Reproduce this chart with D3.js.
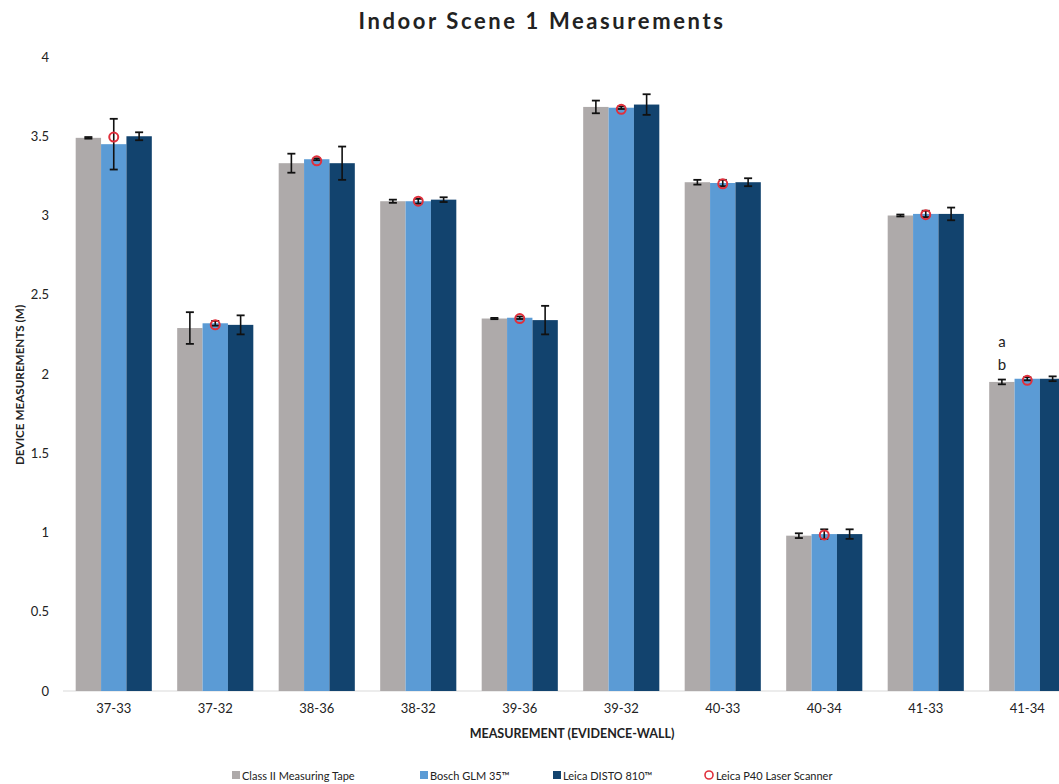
<!DOCTYPE html>
<html>
<head>
<meta charset="utf-8">
<script src="https://cdn.jsdelivr.net/npm/d3@7"></script>
<style>
  body { margin: 0; background: #fff; }
  text { font-family: Lato, "Open Sans", sans-serif; fill: #222; }
</style>
</head>
<body>
<div id="chart"></div>
<script>
// Indoor Scene 1: device measurements per evidence-wall pair

const categories = ["37-33", "37-32", "38-36", "38-32", "39-36", "39-32", "40-33", "40-34", "41-33", "41-34"];
const seriesNames = ["Class II Measuring Tape", "Bosch GLM 35™", "Leica DISTO 810™"];
const tape = [3.49, 2.29, 3.33, 3.09, 2.35, 3.685, 3.21, 0.98, 3.00, 1.95];
const tapeErr = [0.005, 0.10, 0.06, 0.01, 0.004, 0.04, 0.015, 0.015, 0.006, 0.015];
const bosch = [3.45, 2.32, 3.355, 3.09, 2.355, 3.68, 3.205, 0.99, 3.01, 1.97];
const boschErr = [0.16, 0.015, 0.006, 0.015, 0.008, 0.008, 0.02, 0.03, 0.02, 0.01];
const disto = [3.50, 2.31, 3.33, 3.10, 2.34, 3.70, 3.21, 0.99, 3.01, 1.97];
const distoErr = [0.025, 0.06, 0.105, 0.015, 0.09, 0.065, 0.025, 0.03, 0.04, 0.015];
const p40 = [3.495, 2.31, 3.345, 3.09, 2.35, 3.67, 3.20, 0.985, 3.005, 1.96];
const yTicks = [0, 0.5, 1, 1.5, 2, 2.5, 3, 3.5, 4];

const colors = ["#aeaaaa", "#5b9bd5", "#12436e"];
const circleColor = "#e0303c";

const w = 1059, h = 784;
const p_t = 57, p_b = 93, p_l = 63; // padding

const svg = d3.select("#chart").append("svg")
  .attr("width", w)
  .attr("height", h);

// scales
const xScale = d3.scaleBand()
  .domain(categories)
  .range([p_l, 1078])
  .paddingInner(0.25)
  .paddingOuter(0.125);

const xSub = d3.scaleBand()
  .domain(d3.range(seriesNames.length))
  .range([0, xScale.bandwidth()]);

const yScale = d3.scaleLinear()
  .domain([0, 4])
  .range([h - p_b, p_t]);

const values = [tape, bosch, disto];
const errs = [tapeErr, boschErr, distoErr];

// baseline
svg.append("line")
  .attr("x1", p_l).attr("x2", 1078)
  .attr("y1", yScale(0)).attr("y2", yScale(0))
  .attr("stroke", "#d9d9d9");

// bars
const groups = svg.selectAll(".group")
  .data(categories)
  .enter().append("g")
  .attr("class", "group")
  .attr("transform", d => `translate(${xScale(d)} 0)`);

groups.each(function (cat, ci) {
  const g = d3.select(this);
  values.forEach((vals, si) => {
    g.append("rect")
      .attr("x", xSub(si))
      .attr("y", yScale(vals[ci]))
      .attr("width", xSub.bandwidth())
      .attr("height", yScale(0) - yScale(vals[ci]))
      .attr("fill", colors[si]);
  });
  // error bars
  values.forEach((vals, si) => {
    const cx = xSub(si) + xSub.bandwidth() / 2;
    const hi = yScale(vals[ci] + errs[si][ci]);
    const lo = yScale(vals[ci] - errs[si][ci]);
    g.append("line").attr("x1", cx).attr("x2", cx).attr("y1", hi).attr("y2", lo)
      .attr("stroke", "#111").attr("stroke-width", 1.6);
    [hi, lo].forEach(y => {
      g.append("line").attr("x1", cx - 4).attr("x2", cx + 4).attr("y1", y).attr("y2", y)
        .attr("stroke", "#111").attr("stroke-width", 1.8);
    });
  });
  // laser scanner marker
  g.append("circle")
    .attr("cx", xSub(1) + xSub.bandwidth() / 2)
    .attr("cy", yScale(p40[ci]))
    .attr("r", 4.5)
    .attr("fill", "none")
    .attr("stroke", circleColor)
    .attr("stroke-width", 2);
});

// annotation letters above 41-34
const annX = xScale("41-34") + xSub(0) + xSub.bandwidth() / 2;
svg.append("text").attr("x", annX).attr("y", yScale(tape[9]) - 35)
  .attr("text-anchor", "middle").style("font-size", "15px").text("a");
svg.append("text").attr("x", annX).attr("y", yScale(tape[9]) - 12)
  .attr("text-anchor", "middle").style("font-size", "15px").text("b");

// axes
const yAxis = svg.append("g")
  .attr("transform", `translate(${p_l} 0)`)
  .call(d3.axisLeft(yScale).tickValues(yTicks).tickSize(0).tickPadding(14).tickFormat(d3.format("")));
yAxis.select(".domain").remove();
yAxis.selectAll("text").style("font-size", "13px").style("font-family", "Lato, sans-serif").attr("fill", "#222");

const xAxis = svg.append("g")
  .attr("transform", `translate(0 ${yScale(0)})`)
  .call(d3.axisBottom(xScale).tickSize(0).tickPadding(13));
xAxis.select(".domain").remove();
xAxis.selectAll("text").style("font-size", "13px").style("font-family", "Lato, sans-serif").attr("fill", "#222");

// titles
svg.append("text")
  .attr("x", 542).attr("y", 29)
  .attr("text-anchor", "middle")
  .style("font-size", "22px").style("font-weight", "bold").style("letter-spacing", "2.6px")
  .text("Indoor Scene 1 Measurements");

svg.append("text")
  .attr("x", 572).attr("y", 738)
  .attr("text-anchor", "middle")
  .style("font-size", "12.5px").style("font-weight", "bold")
  .text("MEASUREMENT (EVIDENCE-WALL)");

svg.append("text")
  .attr("transform", `translate(24 385) rotate(-90)`)
  .attr("text-anchor", "middle")
  .style("font-size", "11.7px").style("font-weight", "bold")
  .text("DEVICE MEASUREMENTS (M)");

// legend
const legendX = [232, 420, 553, 705];
const legend = svg.append("g").attr("transform", "translate(0 775)");
seriesNames.forEach((name, i) => {
  legend.append("rect").attr("x", legendX[i]).attr("y", -4).attr("width", 8).attr("height", 8).attr("fill", colors[i]);
  legend.append("text").attr("x", legendX[i] + 10).attr("y", 4.5).style("font-size", "11px").text(name);
});
legend.append("circle").attr("cx", legendX[3] + 4).attr("cy", 0).attr("r", 4)
  .attr("fill", "none").attr("stroke", circleColor).attr("stroke-width", 1.6);
legend.append("text").attr("x", legendX[3] + 11).attr("y", 4.5).style("font-size", "11px").text("Leica P40 Laser Scanner");
</script>
</body>
</html>
